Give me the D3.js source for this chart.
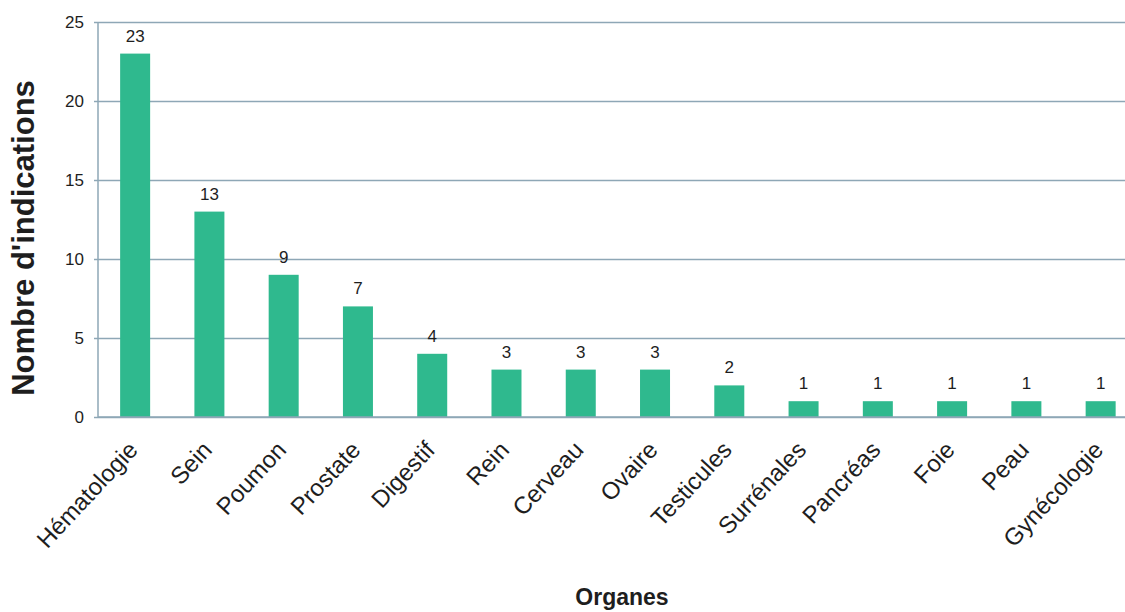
<!DOCTYPE html>
<html>
<head>
<meta charset="utf-8">
<script src="https://cdn.jsdelivr.net/npm/d3@7"></script>
<style>
  body { margin: 0; background: #fff; }
  text { font-family: "Liberation Sans", Arial, sans-serif; fill: #1e1e1e; }
</style>
</head>
<body>
<div id="chart"></div>
<script>
const organes = ['Hématologie', 'Sein', 'Poumon', 'Prostate', 'Digestif', 'Rein', 'Cerveau',
    'Ovaire', 'Testicules', 'Surrénales', 'Pancréas', 'Foie', 'Peau', 'Gynécologie'];
const indications = [23, 13, 9, 7, 4, 3, 3, 3, 2, 1, 1, 1, 1, 1];
const yTicks = [0, 5, 10, 15, 20, 25];

const width = 1125;
const height = 612;
const plotLeft = 98;
const plotTop = 22;
const plotBottom = 417;
const step = 74.27;

const svg = d3
    .select('#chart')
    .append('svg')
    .attr('width', width)
    .attr('height', height);

const x = d3
    .scaleBand()
    .domain(organes)
    .range([plotLeft, plotLeft + step * organes.length])
    .paddingInner(0.596)
    .paddingOuter(0.298);

const y = d3.scaleLinear().domain([0, 25]).range([plotBottom, plotTop]);

// gridlines + y axis
const yAxis = d3
    .axisLeft(y)
    .tickValues(yTicks)
    .tickSize(-(width - plotLeft + 4))
    .tickPadding(10)
    .tickSizeOuter(0);
svg.append('g')
    .attr('transform', `translate(${plotLeft - 4},0)`)
    .call(yAxis)
    .call((g) => g.select('.domain').remove())
    .call((g) => g.selectAll('.tick line').attr('stroke', '#8ea7b6').attr('stroke-width', 1.3))
    .call((g) => g.selectAll('.tick text')
        .attr('font-size', 17)
        .attr('fill', '#2a2a2a')
        .style('font-family', '"Liberation Sans", Arial, sans-serif'));

svg.append('line')
    .attr('x1', plotLeft).attr('x2', plotLeft)
    .attr('y1', plotTop).attr('y2', plotBottom)
    .attr('stroke', '#8ea7b6')
    .attr('stroke-width', 1.5);

// bars
svg.append('g')
    .selectAll('rect')
    .data(organes)
    .join('rect')
    .attr('x', (d) => x(d))
    .attr('y', (d, i) => y(indications[i]))
    .attr('width', x.bandwidth())
    .attr('height', (d, i) => plotBottom - y(indications[i]))
    .attr('fill', '#2fb98e');

// x axis line on top of bars
svg.append('line')
    .attr('x1', plotLeft).attr('x2', width)
    .attr('y1', plotBottom).attr('y2', plotBottom)
    .attr('stroke', '#8ea7b6')
    .attr('stroke-width', 1.5);

// value labels
svg.append('g')
    .selectAll('text')
    .data(organes)
    .join('text')
    .attr('x', (d) => x(d) + x.bandwidth() / 2)
    .attr('y', (d, i) => y(indications[i]) - 12)
    .attr('text-anchor', 'middle')
    .attr('font-size', 17)
    .text((d, i) => indications[i]);

// category labels
svg.append('g')
    .selectAll('text')
    .data(organes)
    .join('text')
    .attr('transform', (d) => `translate(${x(d) + x.bandwidth() / 2 + 4},${plotBottom + 34}) rotate(-47)`)
    .attr('text-anchor', 'end')
    .attr('font-size', 24)
    .text((d) => d);

// axis titles
svg.append('text')
    .attr('transform', `translate(34,238) rotate(-90)`)
    .attr('text-anchor', 'middle')
    .attr('font-size', 31)
    .attr('font-weight', 'bold')
    .text("Nombre d'indications");

svg.append('text')
    .attr('x', 622)
    .attr('y', 605)
    .attr('text-anchor', 'middle')
    .attr('font-size', 23)
    .attr('font-weight', 'bold')
    .text('Organes');
</script>
</body>
</html>
